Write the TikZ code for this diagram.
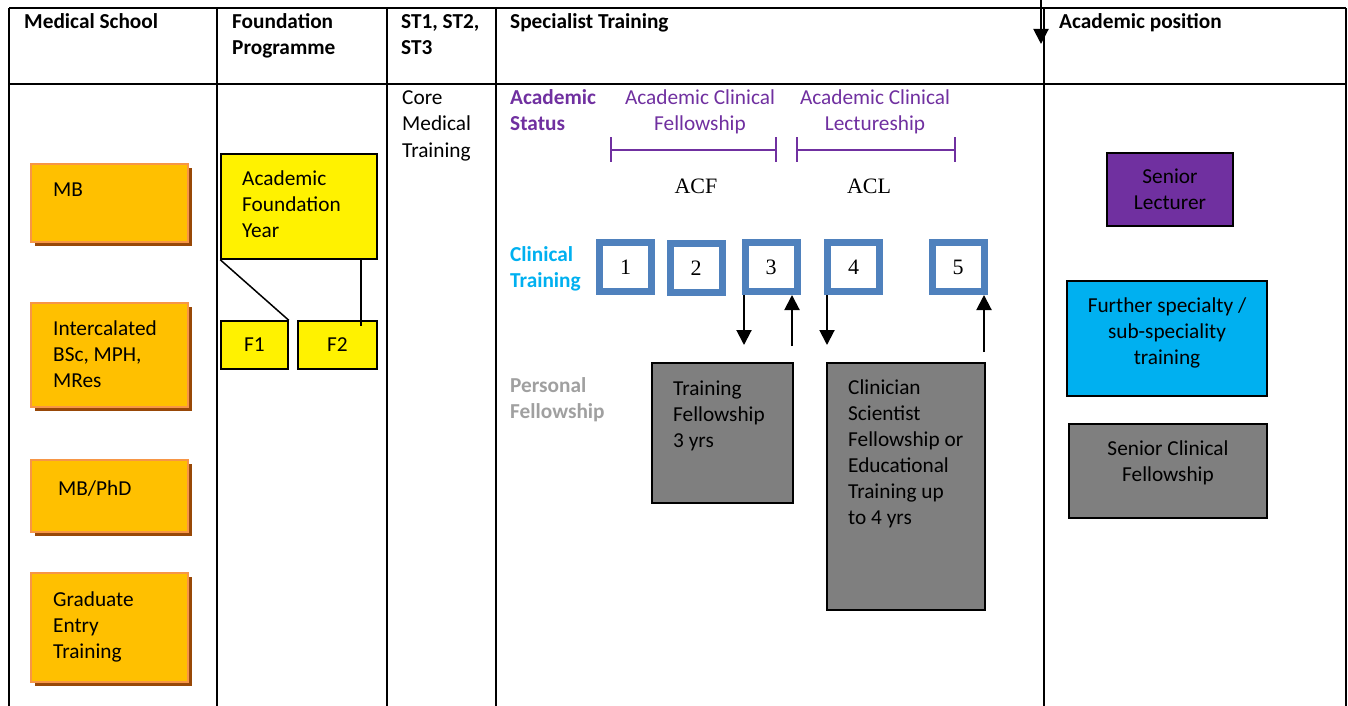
\documentclass[tikz,border=0pt]{standalone}
\usepackage{fontspec}
\setmainfont{Carlito}
\newfontfamily\numfont{Liberation Serif}
\usetikzlibrary{arrows.meta,shadows}
\definecolor{msorange}{HTML}{FFC000}
\definecolor{msorangeline}{HTML}{F79646}
\definecolor{msbrown}{HTML}{984807}
\definecolor{mspurple}{HTML}{7030A0}
\definecolor{mscyan}{HTML}{00B0F0}
\definecolor{msblue}{HTML}{4F81BD}
\definecolor{msgray}{HTML}{7F7F7F}
\definecolor{mslabelgray}{HTML}{A0A0A0}

\begin{document}
\begin{tikzpicture}[x=1pt,y=-1pt,
	every node/.style={font=\fontsize{21.3}{26}\selectfont, inner sep=0pt},
	txt/.style={anchor=base west, align=left},
	ctxt/.style={anchor=base, align=center},
	head/.style={txt, font=\fontsize{21.3}{26}\selectfont\bfseries},
	obox/.style={draw=msorangeline, line width=2pt, fill=msorange,
		drop shadow={shadow xshift=4pt, shadow yshift=-4pt, fill=msbrown, opacity=1}},
	ybox/.style={draw, line width=1.5pt, fill=yellow},
	numbox/.style={draw=msblue, line width=7pt, fill=white, minimum width=52pt, minimum height=49pt, font=\fontsize{22}{26}\numfont},
	gbox/.style={draw, line width=1.5pt, fill=msgray},
	arr/.style={line width=2pt, -{Triangle[length=15pt,width=15pt]}}]
	\useasboundingbox (0,0) rectangle (1348,706);

	% table (base anchor = last line)
	\draw[line width=2pt] (9,8) -- (1346,8);
	\draw[line width=2pt] (9,84) -- (1346,84);
	\foreach \x in {9,217,387,496,1044,1346}
		\draw[line width=2pt] (\x,8) -- (\x,706);

	\node[head] (hmed) at (24,29) {Medical School};
	\node[head] (hfound) at (232,55) {Foundation\\Programme};
	\node[head] (hst) at (401,55) {ST1, ST2,\\ST3};
	\node[head] (hspec) at (510,29) {Specialist Training};
	\node[head] (hacad) at (1059,29) {Academic position};

	\coordinate (topin) at (1041,0);
	\coordinate (topout) at (1041,44);
	\draw[arr] (topin) -- (topout);

	% medical school
	\node[obox, minimum width=157pt, minimum height=78pt] (mb) at (109.5,203) {};
	\node[txt] (mbt) at (53,196) {MB};
	\node[obox, minimum width=157pt, minimum height=104pt] (bsc) at (109.5,355) {};
	\node[txt] (bsct) at (53,387) {Intercalated\\BSc, MPH,\\MRes};
	\node[obox, minimum width=157pt, minimum height=72pt] (phd) at (109.5,496) {};
	\node[txt] (phdt) at (58,495) {MB/PhD};
	\node[obox, minimum width=157pt, minimum height=109pt] (grad) at (109.5,627.5) {};
	\node[txt] (gradt) at (53,658) {Graduate\\Entry\\Training};

	% foundation
	\node[ybox, minimum width=156pt, minimum height=105pt] (afy) at (299,206.5) {};
	\node[txt] (afyt) at (242,237) {Academic\\Foundation\\Year};
	\node[ybox, minimum width=67pt, minimum height=48pt] (f1) at (254.5,345) {F1};
	\node[ybox, minimum width=79pt, minimum height=48pt] (f2) at (337.5,345) {F2};
	\draw[line width=1.5pt] (afy.south west) -- (f1.north east);
	\draw[line width=1.5pt] ([xshift=-17pt]afy.south east) -- ([xshift=-17pt, yshift=-6pt]f2.north east);

	\node[txt] (cmt) at (402,157) {Core\\Medical\\Training};

	% specialist training
	\node[head, text=mspurple] (acst) at (510,131) {Academic\\Status};
	\node[ctxt, text=mspurple] (acf) at (700,131) {Academic Clinical\\Fellowship};
	\node[ctxt, text=mspurple] (acl) at (875,131) {Academic Clinical\\Lectureship};
	\draw[mspurple, line width=1.5pt] (611,137) -- (611,162) (611,150) -- (776,150) (776,137) -- (776,162);
	\draw[mspurple, line width=1.5pt] (797,137) -- (797,162) (797,150) -- (955,150) (955,137) -- (955,162);
	\node[ctxt, font=\fontsize{22}{26}\numfont] (acfs) at (696,193) {ACF};
	\node[ctxt, font=\fontsize{22}{26}\numfont] (acls) at (869,193) {ACL};

	\node[head, text=mscyan] (clin) at (510,287) {Clinical\\Training};
	\node[numbox] (b1) at (625.5,267) {1};
	\node[numbox] (b2) at (696,268) {2};
	\node[numbox] (b3) at (771,267) {3};
	\node[numbox] (b4) at (853.5,267) {4};
	\node[numbox] (b5) at (958,267) {5};

	\node[head, text=mslabelgray] (pers) at (510,418) {Personal\\Fellowship};
	\node[gbox, minimum width=141pt, minimum height=140pt] (tf) at (722.5,433) {};
	\node[txt] (tft) at (673,447) {Training\\Fellowship\\3 yrs};
	\node[gbox, minimum width=158pt, minimum height=247pt] (cs) at (906,486.5) {};
	\node[txt] (cst) at (848,524) {Clinician\\Scientist\\Fellowship or\\Educational\\Training up\\to 4 yrs};

	\coordinate (d3) at (744,345);
	\coordinate (u3) at (792,346);
	\coordinate (d4) at (827,345);
	\coordinate (u5) at (984,352);
	\draw[arr] (d3 |- b3.south) -- (d3);
	\draw[arr] (u3) -- (u3 |- b3.south);
	\draw[arr] (d4 |- b4.south) -- (d4);
	\draw[arr] (u5) -- (u5 |- b5.south);

	% academic position
	\node[gbox, fill=mspurple, minimum width=126pt, minimum height=73pt] (sl) at (1170,189.5) {};
	\node[ctxt] (slt) at (1170,209) {Senior\\Lecturer};
	\node[gbox, fill=mscyan, minimum width=200pt, minimum height=115pt] (fs) at (1167,338.5) {};
	\node[ctxt] (fst) at (1167,364) {Further specialty /\\sub-speciality\\training};
	\node[gbox, minimum width=198pt, minimum height=94pt] (scf) at (1168,471) {};
	\node[ctxt] (scft) at (1168,481) {Senior Clinical\\Fellowship};
\end{tikzpicture}
\end{document}
